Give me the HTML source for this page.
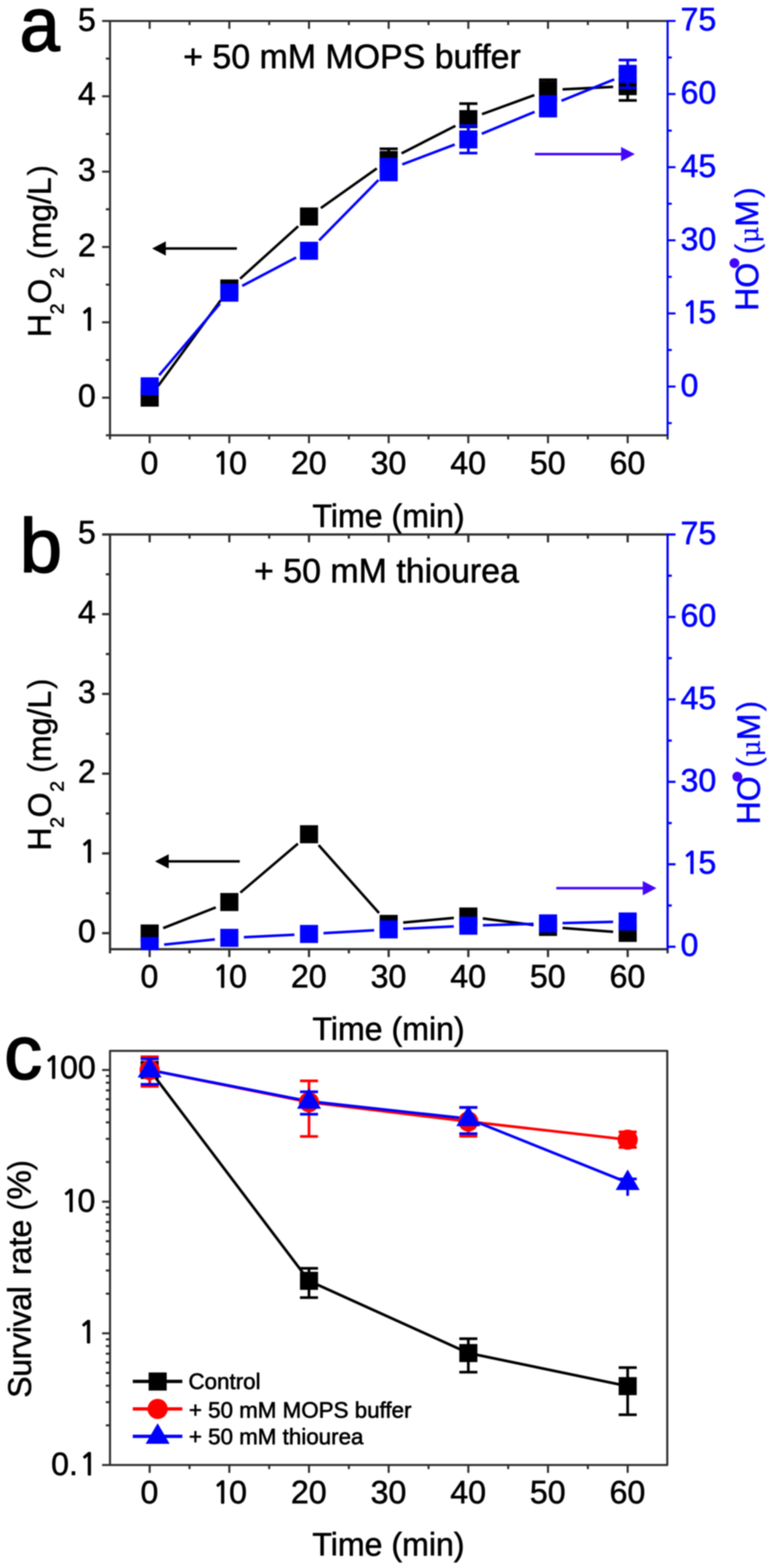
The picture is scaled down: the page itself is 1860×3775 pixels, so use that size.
<!DOCTYPE html>
<html lang="en">
<head>
<meta charset="utf-8">
<title>Figure: H2O2 and HO radical production, survival rate</title>
<style>
html,body{margin:0;padding:0;background:#fff;}
body{width:1860px;height:3775px;overflow:hidden;font-family:"Liberation Sans",Arial,Helvetica,sans-serif;}
svg{display:block;filter:blur(1.5px);}
</style>
</head>
<body>
<svg width="1860" height="3775" viewBox="0 0 1860 3775" font-family="'Liberation Sans', Arial, Helvetica, sans-serif">
<rect width="1860" height="3775" fill="#fff"/>
<line x1="245.7" y1="50.4" x2="1606.4" y2="50.4" stroke="#2e2e2e" stroke-width="5.0"/>
<line x1="360.1" y1="50.4" x2="360.1" y2="69.4" stroke="#2e2e2e" stroke-width="5.0"/>
<line x1="456.0" y1="50.4" x2="456.0" y2="60.4" stroke="#2e2e2e" stroke-width="5.0"/>
<line x1="551.8" y1="50.4" x2="551.8" y2="69.4" stroke="#2e2e2e" stroke-width="5.0"/>
<line x1="647.7" y1="50.4" x2="647.7" y2="60.4" stroke="#2e2e2e" stroke-width="5.0"/>
<line x1="743.5" y1="50.4" x2="743.5" y2="69.4" stroke="#2e2e2e" stroke-width="5.0"/>
<line x1="839.4" y1="50.4" x2="839.4" y2="60.4" stroke="#2e2e2e" stroke-width="5.0"/>
<line x1="935.2" y1="50.4" x2="935.2" y2="69.4" stroke="#2e2e2e" stroke-width="5.0"/>
<line x1="1031.1" y1="50.4" x2="1031.1" y2="60.4" stroke="#2e2e2e" stroke-width="5.0"/>
<line x1="1126.9" y1="50.4" x2="1126.9" y2="69.4" stroke="#2e2e2e" stroke-width="5.0"/>
<line x1="1222.8" y1="50.4" x2="1222.8" y2="60.4" stroke="#2e2e2e" stroke-width="5.0"/>
<line x1="1318.6" y1="50.4" x2="1318.6" y2="69.4" stroke="#2e2e2e" stroke-width="5.0"/>
<line x1="1414.5" y1="50.4" x2="1414.5" y2="60.4" stroke="#2e2e2e" stroke-width="5.0"/>
<line x1="1510.3" y1="50.4" x2="1510.3" y2="69.4" stroke="#2e2e2e" stroke-width="5.0"/>
<line x1="254.7" y1="1048.1" x2="1606.4" y2="1048.1" stroke="#2e2e2e" stroke-width="5.0"/>
<line x1="360.1" y1="1048.1" x2="360.1" y2="1067.1" stroke="#2e2e2e" stroke-width="5.0"/>
<line x1="456.0" y1="1048.1" x2="456.0" y2="1058.1" stroke="#2e2e2e" stroke-width="5.0"/>
<line x1="551.8" y1="1048.1" x2="551.8" y2="1067.1" stroke="#2e2e2e" stroke-width="5.0"/>
<line x1="647.7" y1="1048.1" x2="647.7" y2="1058.1" stroke="#2e2e2e" stroke-width="5.0"/>
<line x1="743.5" y1="1048.1" x2="743.5" y2="1067.1" stroke="#2e2e2e" stroke-width="5.0"/>
<line x1="839.4" y1="1048.1" x2="839.4" y2="1058.1" stroke="#2e2e2e" stroke-width="5.0"/>
<line x1="935.2" y1="1048.1" x2="935.2" y2="1067.1" stroke="#2e2e2e" stroke-width="5.0"/>
<line x1="1031.1" y1="1048.1" x2="1031.1" y2="1058.1" stroke="#2e2e2e" stroke-width="5.0"/>
<line x1="1126.9" y1="1048.1" x2="1126.9" y2="1067.1" stroke="#2e2e2e" stroke-width="5.0"/>
<line x1="1222.8" y1="1048.1" x2="1222.8" y2="1058.1" stroke="#2e2e2e" stroke-width="5.0"/>
<line x1="1318.6" y1="1048.1" x2="1318.6" y2="1067.1" stroke="#2e2e2e" stroke-width="5.0"/>
<line x1="1414.5" y1="1048.1" x2="1414.5" y2="1058.1" stroke="#2e2e2e" stroke-width="5.0"/>
<line x1="1510.3" y1="1048.1" x2="1510.3" y2="1067.1" stroke="#2e2e2e" stroke-width="5.0"/>
<line x1="264.7" y1="47.9" x2="264.7" y2="1058.1" stroke="#2e2e2e" stroke-width="5.0"/>
<line x1="245.7" y1="957.4" x2="264.7" y2="957.4" stroke="#2e2e2e" stroke-width="5.0"/>
<text x="187.5" y="979.0" font-size="77.3" fill="#000" stroke="#000" stroke-width="1.3" stroke-linejoin="round">0</text>
<line x1="254.7" y1="866.7" x2="264.7" y2="866.7" stroke="#2e2e2e" stroke-width="5.0"/>
<line x1="245.7" y1="776.0" x2="264.7" y2="776.0" stroke="#2e2e2e" stroke-width="5.0"/>
<text y="795.0" font-size="77.3" fill="#000" stroke="#000" stroke-width="1.3" stroke-linejoin="round"><tspan x="191.2" font-family="NanumGothic, 'Liberation Sans', sans-serif" font-size="71.1" stroke-width="3.0">1</tspan></text>
<line x1="254.7" y1="685.3" x2="264.7" y2="685.3" stroke="#2e2e2e" stroke-width="5.0"/>
<line x1="245.7" y1="594.6" x2="264.7" y2="594.6" stroke="#2e2e2e" stroke-width="5.0"/>
<text x="187.5" y="617.3" font-size="77.3" fill="#000" stroke="#000" stroke-width="1.3" stroke-linejoin="round">2</text>
<line x1="254.7" y1="503.9" x2="264.7" y2="503.9" stroke="#2e2e2e" stroke-width="5.0"/>
<line x1="245.7" y1="413.2" x2="264.7" y2="413.2" stroke="#2e2e2e" stroke-width="5.0"/>
<text x="187.5" y="434.8" font-size="77.3" fill="#000" stroke="#000" stroke-width="1.3" stroke-linejoin="round">3</text>
<line x1="254.7" y1="322.5" x2="264.7" y2="322.5" stroke="#2e2e2e" stroke-width="5.0"/>
<line x1="245.7" y1="231.8" x2="264.7" y2="231.8" stroke="#2e2e2e" stroke-width="5.0"/>
<text x="187.5" y="251.7" font-size="77.3" fill="#000" stroke="#000" stroke-width="1.3" stroke-linejoin="round">4</text>
<line x1="254.7" y1="141.1" x2="264.7" y2="141.1" stroke="#2e2e2e" stroke-width="5.0"/>
<text x="187.5" y="73.7" font-size="77.3" fill="#000" stroke="#000" stroke-width="1.3" stroke-linejoin="round">5</text>
<line x1="1606.4" y1="47.9" x2="1606.4" y2="1050.6" stroke="#0000ff" stroke-width="5.0"/>
<line x1="1606.4" y1="1049.6" x2="1606.4" y2="1058.1" stroke="#2e2e2e" stroke-width="5.0"/>
<line x1="1606.4" y1="1018.6" x2="1616.4" y2="1018.6" stroke="#0000ff" stroke-width="5.0"/>
<line x1="1606.4" y1="930.6" x2="1625.4" y2="930.6" stroke="#0000ff" stroke-width="5.0"/>
<text x="1637.6" y="953.6" font-size="77.3" fill="#0000ff" stroke="#0000ff" stroke-width="1.3" stroke-linejoin="round">0</text>
<line x1="1606.4" y1="842.6" x2="1616.4" y2="842.6" stroke="#0000ff" stroke-width="5.0"/>
<line x1="1606.4" y1="754.6" x2="1625.4" y2="754.6" stroke="#0000ff" stroke-width="5.0"/>
<text y="777.6" font-size="77.3" fill="#0000ff" stroke="#0000ff" stroke-width="1.3" stroke-linejoin="round"><tspan x="1641.3" font-family="NanumGothic, 'Liberation Sans', sans-serif" font-size="71.1" stroke-width="3.0">1</tspan><tspan x="1680.6">5</tspan></text>
<line x1="1606.4" y1="666.5" x2="1616.4" y2="666.5" stroke="#0000ff" stroke-width="5.0"/>
<line x1="1606.4" y1="578.5" x2="1625.4" y2="578.5" stroke="#0000ff" stroke-width="5.0"/>
<text x="1637.6" y="601.5" font-size="77.3" fill="#0000ff" stroke="#0000ff" stroke-width="1.3" stroke-linejoin="round">30</text>
<line x1="1606.4" y1="490.5" x2="1616.4" y2="490.5" stroke="#0000ff" stroke-width="5.0"/>
<line x1="1606.4" y1="402.5" x2="1625.4" y2="402.5" stroke="#0000ff" stroke-width="5.0"/>
<text x="1637.6" y="425.5" font-size="77.3" fill="#0000ff" stroke="#0000ff" stroke-width="1.3" stroke-linejoin="round">45</text>
<line x1="1606.4" y1="314.5" x2="1616.4" y2="314.5" stroke="#0000ff" stroke-width="5.0"/>
<line x1="1606.4" y1="226.4" x2="1625.4" y2="226.4" stroke="#0000ff" stroke-width="5.0"/>
<text x="1637.6" y="249.4" font-size="77.3" fill="#0000ff" stroke="#0000ff" stroke-width="1.3" stroke-linejoin="round">60</text>
<line x1="1606.4" y1="138.4" x2="1616.4" y2="138.4" stroke="#0000ff" stroke-width="5.0"/>
<line x1="1606.4" y1="50.4" x2="1625.4" y2="50.4" stroke="#0000ff" stroke-width="5.0"/>
<text x="1637.6" y="73.4" font-size="77.3" fill="#0000ff" stroke="#0000ff" stroke-width="1.3" stroke-linejoin="round">75</text>
<clipPath id="clipa"><rect x="262.2" y="47.9" width="1346.7" height="1002.7"/></clipPath>
<g clip-path="url(#clipa)">
<line x1="380.7" y1="929.0" x2="531.2" y2="722.8" stroke="#000" stroke-width="6.2"/>
<line x1="577.8" y1="671.0" x2="717.5" y2="544.8" stroke="#000" stroke-width="6.2"/>
<line x1="772.0" y1="501.0" x2="906.7" y2="405.5" stroke="#000" stroke-width="6.2"/>
<line x1="966.3" y1="369.2" x2="1095.8" y2="302.9" stroke="#000" stroke-width="6.2"/>
<line x1="1159.8" y1="274.9" x2="1285.7" y2="229.0" stroke="#000" stroke-width="6.2"/>
<line x1="1353.6" y1="215.2" x2="1475.3" y2="209.2" stroke="#000" stroke-width="6.2"/>
<rect x="338.4" y="935.5" width="43.5" height="43.5" fill="#000"/>
<rect x="530.1" y="672.8" width="43.5" height="43.5" fill="#000"/>
<rect x="721.8" y="499.5" width="43.5" height="43.5" fill="#000"/>
<line x1="935.2" y1="358.2" x2="935.2" y2="412.2" stroke="#000" stroke-width="6.5"/>
<line x1="913.5" y1="358.2" x2="957.0" y2="358.2" stroke="#000" stroke-width="6.5"/>
<line x1="913.5" y1="412.2" x2="957.0" y2="412.2" stroke="#000" stroke-width="6.5"/>
<rect x="913.5" y="363.4" width="43.5" height="43.5" fill="#000"/>
<line x1="1126.9" y1="249.6" x2="1126.9" y2="324.2" stroke="#000" stroke-width="6.5"/>
<line x1="1105.2" y1="249.6" x2="1148.7" y2="249.6" stroke="#000" stroke-width="6.5"/>
<line x1="1105.2" y1="324.2" x2="1148.7" y2="324.2" stroke="#000" stroke-width="6.5"/>
<rect x="1105.2" y="265.1" width="43.5" height="43.5" fill="#000"/>
<line x1="1318.6" y1="192.0" x2="1318.6" y2="242.0" stroke="#000" stroke-width="6.5"/>
<line x1="1296.9" y1="192.0" x2="1340.4" y2="192.0" stroke="#000" stroke-width="6.5"/>
<line x1="1296.9" y1="242.0" x2="1340.4" y2="242.0" stroke="#000" stroke-width="6.5"/>
<rect x="1296.9" y="195.2" width="43.5" height="43.5" fill="#000"/>
<line x1="1510.3" y1="173.1" x2="1510.3" y2="241.7" stroke="#000" stroke-width="6.5"/>
<line x1="1488.6" y1="173.1" x2="1532.1" y2="173.1" stroke="#000" stroke-width="6.5"/>
<line x1="1488.6" y1="241.7" x2="1532.1" y2="241.7" stroke="#000" stroke-width="6.5"/>
<rect x="1488.6" y="185.7" width="43.5" height="43.5" fill="#000"/>
<line x1="382.8" y1="903.4" x2="529.1" y2="731.2" stroke="#0000ff" stroke-width="6.2"/>
<line x1="582.8" y1="688.2" x2="712.5" y2="620.0" stroke="#0000ff" stroke-width="6.2"/>
<line x1="768.0" y1="578.7" x2="910.7" y2="433.3" stroke="#0000ff" stroke-width="6.2"/>
<line x1="967.9" y1="395.9" x2="1094.2" y2="348.0" stroke="#0000ff" stroke-width="6.2"/>
<line x1="1159.2" y1="322.2" x2="1286.3" y2="269.3" stroke="#0000ff" stroke-width="6.2"/>
<line x1="1351.0" y1="242.7" x2="1477.9" y2="191.2" stroke="#0000ff" stroke-width="6.2"/>
<rect x="338.4" y="908.4" width="43.5" height="43.5" fill="#0000ff"/>
<rect x="530.1" y="682.8" width="43.5" height="43.5" fill="#0000ff"/>
<rect x="721.8" y="582.0" width="43.5" height="43.5" fill="#0000ff"/>
<line x1="935.2" y1="383.3" x2="935.2" y2="433.3" stroke="#0000ff" stroke-width="6.5"/>
<line x1="913.5" y1="383.3" x2="957.0" y2="383.3" stroke="#0000ff" stroke-width="6.5"/>
<line x1="913.5" y1="433.3" x2="957.0" y2="433.3" stroke="#0000ff" stroke-width="6.5"/>
<rect x="913.5" y="386.6" width="43.5" height="43.5" fill="#0000ff"/>
<line x1="1126.9" y1="302.6" x2="1126.9" y2="368.6" stroke="#0000ff" stroke-width="6.5"/>
<line x1="1105.2" y1="302.6" x2="1148.7" y2="302.6" stroke="#0000ff" stroke-width="6.5"/>
<line x1="1105.2" y1="368.6" x2="1148.7" y2="368.6" stroke="#0000ff" stroke-width="6.5"/>
<rect x="1105.2" y="313.9" width="43.5" height="43.5" fill="#0000ff"/>
<line x1="1318.6" y1="232.4" x2="1318.6" y2="279.4" stroke="#0000ff" stroke-width="6.5"/>
<line x1="1296.9" y1="232.4" x2="1340.4" y2="232.4" stroke="#0000ff" stroke-width="6.5"/>
<line x1="1296.9" y1="279.4" x2="1340.4" y2="279.4" stroke="#0000ff" stroke-width="6.5"/>
<rect x="1296.9" y="234.2" width="43.5" height="43.5" fill="#0000ff"/>
<line x1="1510.3" y1="144.5" x2="1510.3" y2="211.5" stroke="#0000ff" stroke-width="6.5"/>
<line x1="1488.6" y1="144.5" x2="1532.1" y2="144.5" stroke="#0000ff" stroke-width="6.5"/>
<line x1="1488.6" y1="211.5" x2="1532.1" y2="211.5" stroke="#0000ff" stroke-width="6.5"/>
<rect x="1488.6" y="156.2" width="43.5" height="43.5" fill="#0000ff"/>
</g>
<text x="338.1" y="1140.7" font-size="77.3" fill="#000" stroke="#000" stroke-width="1.3" stroke-linejoin="round">0</text>
<text y="1140.7" font-size="77.3" fill="#000" stroke="#000" stroke-width="1.3" stroke-linejoin="round"><tspan x="512.0" font-family="NanumGothic, 'Liberation Sans', sans-serif" font-size="71.1" stroke-width="3.0">1</tspan><tspan x="551.3">0</tspan></text>
<text x="700.0" y="1140.7" font-size="77.3" fill="#000" stroke="#000" stroke-width="1.3" stroke-linejoin="round">20</text>
<text x="891.7" y="1140.7" font-size="77.3" fill="#000" stroke="#000" stroke-width="1.3" stroke-linejoin="round">30</text>
<text x="1083.4" y="1140.7" font-size="77.3" fill="#000" stroke="#000" stroke-width="1.3" stroke-linejoin="round">40</text>
<text x="1275.1" y="1140.7" font-size="77.3" fill="#000" stroke="#000" stroke-width="1.3" stroke-linejoin="round">50</text>
<text x="1466.8" y="1140.7" font-size="77.3" fill="#000" stroke="#000" stroke-width="1.3" stroke-linejoin="round">60</text>
<text x="751.7" y="1268.8" font-size="77.3" fill="#000" stroke="#000" stroke-width="1.3" stroke-linejoin="round">Time (min)</text>
<text x="440.7" y="163.5" font-size="81.6" fill="#000" stroke="#000" stroke-width="1.3" stroke-linejoin="round">+ 50 mM MOPS buffer</text>
<g transform="translate(53.0,122.0) scale(0.95,1)"><text x="-6.0" y="0" font-size="183" fill="#000" stroke="#000" stroke-width="3.6" stroke-linejoin="round">a</text></g>
<line x1="397.0" y1="598.3" x2="570.0" y2="598.3" stroke="#000" stroke-width="6"/>
<polygon points="366.0,598.3 399.0,581.0 399.0,615.5" fill="#000"/>
<line x1="1287.0" y1="371.0" x2="1496.5" y2="371.0" stroke="#4406fa" stroke-width="6"/>
<polygon points="1527.5,371.0 1494.5,353.8 1494.5,388.2" fill="#4406fa"/>
<g transform="translate(122.3,806.0) rotate(-90)"><text fill="#000" stroke="#000" stroke-linejoin="round"><tspan x="-5.7" y="0.0" font-size="77.3" stroke-width="1.3">H</tspan><tspan x="49.6" y="31.1" font-size="46.5" stroke-width="1.3">2</tspan><tspan x="74.5" y="0.0" font-size="77.3" stroke-width="1.3">O</tspan><tspan x="136.1" y="31.1" font-size="46.5" stroke-width="1.3">2 </tspan><tspan x="181.2" y="0.0" font-size="77.3" stroke-width="0.4">(</tspan><tspan x="207.5" y="0.0" font-size="77.3" stroke-width="1.3">mg/L</tspan><tspan x="383.1" y="0.0" font-size="77.3" stroke-width="0.4">)</tspan></text></g>
<g transform="translate(1824.3,742.9) rotate(-90)"><text fill="#0000ff" stroke="#0000ff" stroke-linejoin="round"><tspan x="-5.7" y="0.0" font-size="77.3" stroke-width="1.3">HO</tspan><tspan x="94.1" y="-27.9" font-size="88" stroke-width="0" fill="#4406fa" stroke="#4406fa">• </tspan><tspan x="130.7" y="0.0" font-size="77.3" stroke-width="0.4">(</tspan><tspan x="157.1" y="0.0" font-size="62" stroke-width="0.3" font-family="'DejaVu Serif', 'Liberation Serif', serif">μ</tspan><tspan x="197.0" y="0.0" font-size="77.3" stroke-width="1.3">M</tspan><tspan x="266.4" y="0.0" font-size="77.3" stroke-width="0.4">)</tspan></text></g>
<line x1="245.7" y1="1286.8" x2="1606.4" y2="1286.8" stroke="#2e2e2e" stroke-width="5.4"/>
<line x1="360.1" y1="1286.8" x2="360.1" y2="1305.8" stroke="#2e2e2e" stroke-width="5.4"/>
<line x1="456.0" y1="1286.8" x2="456.0" y2="1296.8" stroke="#2e2e2e" stroke-width="5.4"/>
<line x1="551.8" y1="1286.8" x2="551.8" y2="1305.8" stroke="#2e2e2e" stroke-width="5.4"/>
<line x1="647.7" y1="1286.8" x2="647.7" y2="1296.8" stroke="#2e2e2e" stroke-width="5.4"/>
<line x1="743.5" y1="1286.8" x2="743.5" y2="1305.8" stroke="#2e2e2e" stroke-width="5.4"/>
<line x1="839.4" y1="1286.8" x2="839.4" y2="1296.8" stroke="#2e2e2e" stroke-width="5.4"/>
<line x1="935.2" y1="1286.8" x2="935.2" y2="1305.8" stroke="#2e2e2e" stroke-width="5.4"/>
<line x1="1031.1" y1="1286.8" x2="1031.1" y2="1296.8" stroke="#2e2e2e" stroke-width="5.4"/>
<line x1="1126.9" y1="1286.8" x2="1126.9" y2="1305.8" stroke="#2e2e2e" stroke-width="5.4"/>
<line x1="1222.8" y1="1286.8" x2="1222.8" y2="1296.8" stroke="#2e2e2e" stroke-width="5.4"/>
<line x1="1318.6" y1="1286.8" x2="1318.6" y2="1305.8" stroke="#2e2e2e" stroke-width="5.4"/>
<line x1="1414.5" y1="1286.8" x2="1414.5" y2="1296.8" stroke="#2e2e2e" stroke-width="5.4"/>
<line x1="1510.3" y1="1286.8" x2="1510.3" y2="1305.8" stroke="#2e2e2e" stroke-width="5.4"/>
<line x1="264.7" y1="2285.2" x2="1606.4" y2="2285.2" stroke="#2e2e2e" stroke-width="5.4"/>
<line x1="360.1" y1="2285.2" x2="360.1" y2="2304.2" stroke="#2e2e2e" stroke-width="5.4"/>
<line x1="456.0" y1="2285.2" x2="456.0" y2="2295.2" stroke="#2e2e2e" stroke-width="5.4"/>
<line x1="551.8" y1="2285.2" x2="551.8" y2="2304.2" stroke="#2e2e2e" stroke-width="5.4"/>
<line x1="647.7" y1="2285.2" x2="647.7" y2="2295.2" stroke="#2e2e2e" stroke-width="5.4"/>
<line x1="743.5" y1="2285.2" x2="743.5" y2="2304.2" stroke="#2e2e2e" stroke-width="5.4"/>
<line x1="839.4" y1="2285.2" x2="839.4" y2="2295.2" stroke="#2e2e2e" stroke-width="5.4"/>
<line x1="935.2" y1="2285.2" x2="935.2" y2="2304.2" stroke="#2e2e2e" stroke-width="5.4"/>
<line x1="1031.1" y1="2285.2" x2="1031.1" y2="2295.2" stroke="#2e2e2e" stroke-width="5.4"/>
<line x1="1126.9" y1="2285.2" x2="1126.9" y2="2304.2" stroke="#2e2e2e" stroke-width="5.4"/>
<line x1="1222.8" y1="2285.2" x2="1222.8" y2="2295.2" stroke="#2e2e2e" stroke-width="5.4"/>
<line x1="1318.6" y1="2285.2" x2="1318.6" y2="2304.2" stroke="#2e2e2e" stroke-width="5.4"/>
<line x1="1414.5" y1="2285.2" x2="1414.5" y2="2295.2" stroke="#2e2e2e" stroke-width="5.4"/>
<line x1="1510.3" y1="2285.2" x2="1510.3" y2="2304.2" stroke="#2e2e2e" stroke-width="5.4"/>
<line x1="264.7" y1="1284.1" x2="264.7" y2="2295.2" stroke="#2e2e2e" stroke-width="5.4"/>
<line x1="245.7" y1="2246.6" x2="264.7" y2="2246.6" stroke="#2e2e2e" stroke-width="5.4"/>
<text x="187.5" y="2268.2" font-size="77.3" fill="#000" stroke="#000" stroke-width="1.3" stroke-linejoin="round">0</text>
<line x1="254.7" y1="2150.6" x2="264.7" y2="2150.6" stroke="#2e2e2e" stroke-width="5.4"/>
<line x1="245.7" y1="2054.6" x2="264.7" y2="2054.6" stroke="#2e2e2e" stroke-width="5.4"/>
<text y="2076.2" font-size="77.3" fill="#000" stroke="#000" stroke-width="1.3" stroke-linejoin="round"><tspan x="191.2" font-family="NanumGothic, 'Liberation Sans', sans-serif" font-size="71.1" stroke-width="3.0">1</tspan></text>
<line x1="254.7" y1="1958.6" x2="264.7" y2="1958.6" stroke="#2e2e2e" stroke-width="5.4"/>
<line x1="245.7" y1="1862.6" x2="264.7" y2="1862.6" stroke="#2e2e2e" stroke-width="5.4"/>
<text x="187.5" y="1884.2" font-size="77.3" fill="#000" stroke="#000" stroke-width="1.3" stroke-linejoin="round">2</text>
<line x1="254.7" y1="1766.6" x2="264.7" y2="1766.6" stroke="#2e2e2e" stroke-width="5.4"/>
<line x1="245.7" y1="1670.6" x2="264.7" y2="1670.6" stroke="#2e2e2e" stroke-width="5.4"/>
<text x="187.5" y="1692.2" font-size="77.3" fill="#000" stroke="#000" stroke-width="1.3" stroke-linejoin="round">3</text>
<line x1="254.7" y1="1574.6" x2="264.7" y2="1574.6" stroke="#2e2e2e" stroke-width="5.4"/>
<line x1="245.7" y1="1478.6" x2="264.7" y2="1478.6" stroke="#2e2e2e" stroke-width="5.4"/>
<text x="187.5" y="1500.2" font-size="77.3" fill="#000" stroke="#000" stroke-width="1.3" stroke-linejoin="round">4</text>
<line x1="254.7" y1="1382.6" x2="264.7" y2="1382.6" stroke="#2e2e2e" stroke-width="5.4"/>
<text x="187.5" y="1308.2" font-size="77.3" fill="#000" stroke="#000" stroke-width="1.3" stroke-linejoin="round">5</text>
<line x1="1606.4" y1="1284.1" x2="1606.4" y2="2287.9" stroke="#0000ff" stroke-width="5.4"/>
<line x1="1606.4" y1="2286.9" x2="1606.4" y2="2295.2" stroke="#2e2e2e" stroke-width="5.4"/>
<line x1="1606.4" y1="2279.3" x2="1625.4" y2="2279.3" stroke="#0000ff" stroke-width="5.4"/>
<text x="1637.6" y="2300.8" font-size="77.3" fill="#0000ff" stroke="#0000ff" stroke-width="1.3" stroke-linejoin="round">0</text>
<line x1="1606.4" y1="2180.0" x2="1616.4" y2="2180.0" stroke="#0000ff" stroke-width="5.4"/>
<line x1="1606.4" y1="2080.8" x2="1625.4" y2="2080.8" stroke="#0000ff" stroke-width="5.4"/>
<text y="2102.8" font-size="77.3" fill="#0000ff" stroke="#0000ff" stroke-width="1.3" stroke-linejoin="round"><tspan x="1641.3" font-family="NanumGothic, 'Liberation Sans', sans-serif" font-size="71.1" stroke-width="3.0">1</tspan><tspan x="1680.6">5</tspan></text>
<line x1="1606.4" y1="1981.5" x2="1616.4" y2="1981.5" stroke="#0000ff" stroke-width="5.4"/>
<line x1="1606.4" y1="1882.3" x2="1625.4" y2="1882.3" stroke="#0000ff" stroke-width="5.4"/>
<text x="1637.6" y="1904.8" font-size="77.3" fill="#0000ff" stroke="#0000ff" stroke-width="1.3" stroke-linejoin="round">30</text>
<line x1="1606.4" y1="1783.0" x2="1616.4" y2="1783.0" stroke="#0000ff" stroke-width="5.4"/>
<line x1="1606.4" y1="1683.8" x2="1625.4" y2="1683.8" stroke="#0000ff" stroke-width="5.4"/>
<text x="1637.6" y="1706.8" font-size="77.3" fill="#0000ff" stroke="#0000ff" stroke-width="1.3" stroke-linejoin="round">45</text>
<line x1="1606.4" y1="1584.5" x2="1616.4" y2="1584.5" stroke="#0000ff" stroke-width="5.4"/>
<line x1="1606.4" y1="1485.3" x2="1625.4" y2="1485.3" stroke="#0000ff" stroke-width="5.4"/>
<text x="1637.6" y="1508.3" font-size="77.3" fill="#0000ff" stroke="#0000ff" stroke-width="1.3" stroke-linejoin="round">60</text>
<line x1="1606.4" y1="1386.0" x2="1616.4" y2="1386.0" stroke="#0000ff" stroke-width="5.4"/>
<line x1="1606.4" y1="1286.8" x2="1625.4" y2="1286.8" stroke="#0000ff" stroke-width="5.4"/>
<text x="1637.6" y="1309.8" font-size="77.3" fill="#0000ff" stroke="#0000ff" stroke-width="1.3" stroke-linejoin="round">75</text>
<clipPath id="clipb"><rect x="262.0" y="1284.1" width="1347.1" height="1003.8"/></clipPath>
<g clip-path="url(#clipb)">
<line x1="392.7" y1="2234.5" x2="519.2" y2="2184.6" stroke="#000" stroke-width="6.2"/>
<line x1="578.4" y1="2149.0" x2="716.9" y2="2031.1" stroke="#000" stroke-width="6.2"/>
<line x1="766.7" y1="2034.6" x2="912.0" y2="2198.1" stroke="#000" stroke-width="6.2"/>
<line x1="970.1" y1="2221.1" x2="1092.0" y2="2209.8" stroke="#000" stroke-width="6.2"/>
<line x1="1161.6" y1="2211.1" x2="1283.9" y2="2227.1" stroke="#000" stroke-width="6.2"/>
<line x1="1353.5" y1="2234.2" x2="1475.4" y2="2243.4" stroke="#000" stroke-width="6.2"/>
<rect x="338.4" y="2225.7" width="43.5" height="43.5" fill="#000"/>
<rect x="530.1" y="2149.9" width="43.5" height="43.5" fill="#000"/>
<rect x="721.8" y="1986.7" width="43.5" height="43.5" fill="#000"/>
<rect x="913.5" y="2202.6" width="43.5" height="43.5" fill="#000"/>
<rect x="1105.2" y="2184.8" width="43.5" height="43.5" fill="#000"/>
<rect x="1296.9" y="2209.8" width="43.5" height="43.5" fill="#000"/>
<rect x="1488.6" y="2224.2" width="43.5" height="43.5" fill="#000"/>
<line x1="394.9" y1="2274.2" x2="517.0" y2="2261.6" stroke="#0000ff" stroke-width="6.2"/>
<line x1="586.8" y1="2256.3" x2="708.5" y2="2250.3" stroke="#0000ff" stroke-width="6.2"/>
<line x1="778.4" y1="2246.6" x2="900.3" y2="2239.6" stroke="#0000ff" stroke-width="6.2"/>
<line x1="970.2" y1="2236.0" x2="1091.9" y2="2230.3" stroke="#0000ff" stroke-width="6.2"/>
<line x1="1161.9" y1="2227.7" x2="1283.6" y2="2224.2" stroke="#0000ff" stroke-width="6.2"/>
<line x1="1353.6" y1="2222.3" x2="1475.3" y2="2219.4" stroke="#0000ff" stroke-width="6.2"/>
<rect x="338.4" y="2256.1" width="43.5" height="43.5" fill="#0000ff"/>
<rect x="530.1" y="2236.2" width="43.5" height="43.5" fill="#0000ff"/>
<rect x="721.8" y="2226.8" width="43.5" height="43.5" fill="#0000ff"/>
<rect x="913.5" y="2215.8" width="43.5" height="43.5" fill="#0000ff"/>
<rect x="1105.2" y="2206.9" width="43.5" height="43.5" fill="#0000ff"/>
<rect x="1296.9" y="2201.4" width="43.5" height="43.5" fill="#0000ff"/>
<rect x="1488.6" y="2196.8" width="43.5" height="43.5" fill="#0000ff"/>
</g>
<text x="338.1" y="2376.5" font-size="77.3" fill="#000" stroke="#000" stroke-width="1.3" stroke-linejoin="round">0</text>
<text y="2376.5" font-size="77.3" fill="#000" stroke="#000" stroke-width="1.3" stroke-linejoin="round"><tspan x="512.0" font-family="NanumGothic, 'Liberation Sans', sans-serif" font-size="71.1" stroke-width="3.0">1</tspan><tspan x="551.3">0</tspan></text>
<text x="700.0" y="2376.5" font-size="77.3" fill="#000" stroke="#000" stroke-width="1.3" stroke-linejoin="round">20</text>
<text x="891.7" y="2376.5" font-size="77.3" fill="#000" stroke="#000" stroke-width="1.3" stroke-linejoin="round">30</text>
<text x="1083.4" y="2376.5" font-size="77.3" fill="#000" stroke="#000" stroke-width="1.3" stroke-linejoin="round">40</text>
<text x="1275.1" y="2376.5" font-size="77.3" fill="#000" stroke="#000" stroke-width="1.3" stroke-linejoin="round">50</text>
<text x="1466.8" y="2376.5" font-size="77.3" fill="#000" stroke="#000" stroke-width="1.3" stroke-linejoin="round">60</text>
<text x="751.7" y="2503.5" font-size="77.3" fill="#000" stroke="#000" stroke-width="1.3" stroke-linejoin="round">Time (min)</text>
<text x="611.3" y="1402.0" font-size="81.6" fill="#000" stroke="#000" stroke-width="1.3" stroke-linejoin="round">+ 50 mM thiourea</text>
<text x="47.6" y="1376.5" font-size="183" fill="#000" stroke="#000" stroke-width="3.6" stroke-linejoin="round">b</text>
<line x1="404.0" y1="2073.8" x2="577.0" y2="2073.8" stroke="#000" stroke-width="6"/>
<polygon points="373.0,2073.8 406.0,2056.6 406.0,2091.1" fill="#000"/>
<line x1="1338.5" y1="2138.3" x2="1548.6" y2="2138.3" stroke="#4406fa" stroke-width="6"/>
<polygon points="1579.6,2138.3 1546.6,2121.1 1546.6,2155.6" fill="#4406fa"/>
<g transform="translate(122.3,2042.4) rotate(-90)"><text fill="#000" stroke="#000" stroke-linejoin="round"><tspan x="-5.7" y="0.0" font-size="77.3" stroke-width="1.3">H</tspan><tspan x="49.6" y="31.1" font-size="46.5" stroke-width="1.3">2</tspan><tspan x="74.5" y="0.0" font-size="77.3" stroke-width="1.3">O</tspan><tspan x="136.1" y="31.1" font-size="46.5" stroke-width="1.3">2 </tspan><tspan x="181.2" y="0.0" font-size="77.3" stroke-width="0.4">(</tspan><tspan x="207.5" y="0.0" font-size="77.3" stroke-width="1.3">mg/L</tspan><tspan x="383.1" y="0.0" font-size="77.3" stroke-width="0.4">)</tspan></text></g>
<g transform="translate(1827.6,1979.3) rotate(-90)"><text fill="#0000ff" stroke="#0000ff" stroke-linejoin="round"><tspan x="-5.7" y="0.0" font-size="77.3" stroke-width="1.3">HO</tspan><tspan x="94.1" y="-24.4" font-size="88" stroke-width="0" fill="#4406fa" stroke="#4406fa">• </tspan><tspan x="130.7" y="0.0" font-size="77.3" stroke-width="0.4">(</tspan><tspan x="157.1" y="0.0" font-size="62" stroke-width="0.3" font-family="'DejaVu Serif', 'Liberation Serif', serif">μ</tspan><tspan x="197.0" y="0.0" font-size="77.3" stroke-width="1.3">M</tspan><tspan x="266.4" y="0.0" font-size="77.3" stroke-width="0.4">)</tspan></text></g>
<clipPath id="clipc"><rect x="264.7" y="2530.0" width="1341.7" height="997.0"/></clipPath>
<g clip-path="url(#clipc)">
<polyline fill="none" stroke="#000" stroke-width="6.6" stroke-linejoin="round" points="360.1,2576.0 743.5,3083.7 1126.9,3257.5 1510.3,3337.2"/>
<polyline fill="none" stroke="#ff0000" stroke-width="6.6" stroke-linejoin="round" points="360.1,2576.0 743.5,2653.5 1126.9,2700.0 1510.3,2743.7"/>
<polyline fill="none" stroke="#0000ff" stroke-width="6.6" stroke-linejoin="round" points="360.1,2576.1 743.5,2651.4 1126.9,2693.3 1510.3,2847.1"/>
<line x1="743.5" y1="3053.4" x2="743.5" y2="3124.1" stroke="#000" stroke-width="6.5"/>
<line x1="721.8" y1="3053.4" x2="765.2" y2="3053.4" stroke="#000" stroke-width="6.5"/>
<line x1="721.8" y1="3124.1" x2="765.2" y2="3124.1" stroke="#000" stroke-width="6.5"/>
<line x1="1126.9" y1="3223.1" x2="1126.9" y2="3303.6" stroke="#000" stroke-width="6.5"/>
<line x1="1105.2" y1="3223.1" x2="1148.7" y2="3223.1" stroke="#000" stroke-width="6.5"/>
<line x1="1105.2" y1="3303.6" x2="1148.7" y2="3303.6" stroke="#000" stroke-width="6.5"/>
<line x1="1510.3" y1="3292.6" x2="1510.3" y2="3406.0" stroke="#000" stroke-width="6.5"/>
<line x1="1488.6" y1="3292.6" x2="1532.1" y2="3292.6" stroke="#000" stroke-width="6.5"/>
<line x1="1488.6" y1="3406.0" x2="1532.1" y2="3406.0" stroke="#000" stroke-width="6.5"/>
<line x1="360.1" y1="2549.2" x2="360.1" y2="2610.6" stroke="#0000ff" stroke-width="6.5"/>
<line x1="743.5" y1="2628.4" x2="743.5" y2="2682.5" stroke="#0000ff" stroke-width="6.5"/>
<line x1="1126.9" y1="2666.3" x2="1126.9" y2="2729.2" stroke="#0000ff" stroke-width="6.5"/>
<line x1="1510.3" y1="2838.2" x2="1510.3" y2="2879.0" stroke="#0000ff" stroke-width="6.5"/>
<line x1="360.1" y1="2544.2" x2="360.1" y2="2615.6" stroke="#ff0000" stroke-width="6.5"/>
<line x1="338.4" y1="2544.2" x2="381.9" y2="2544.2" stroke="#ff0000" stroke-width="6.5"/>
<line x1="338.4" y1="2615.6" x2="381.9" y2="2615.6" stroke="#ff0000" stroke-width="6.5"/>
<line x1="743.5" y1="2602.2" x2="743.5" y2="2736.0" stroke="#ff0000" stroke-width="6.5"/>
<line x1="721.8" y1="2602.2" x2="765.2" y2="2602.2" stroke="#ff0000" stroke-width="6.5"/>
<line x1="721.8" y1="2736.0" x2="765.2" y2="2736.0" stroke="#ff0000" stroke-width="6.5"/>
<line x1="1126.9" y1="2666.0" x2="1126.9" y2="2735.5" stroke="#ff0000" stroke-width="6.5"/>
<line x1="1105.2" y1="2666.0" x2="1148.7" y2="2666.0" stroke="#ff0000" stroke-width="6.5"/>
<line x1="1105.2" y1="2735.5" x2="1148.7" y2="2735.5" stroke="#ff0000" stroke-width="6.5"/>
<line x1="1510.3" y1="2725.0" x2="1510.3" y2="2762.4" stroke="#ff0000" stroke-width="6.5"/>
<line x1="1488.6" y1="2725.0" x2="1532.1" y2="2725.0" stroke="#ff0000" stroke-width="6.5"/>
<line x1="1488.6" y1="2762.4" x2="1532.1" y2="2762.4" stroke="#ff0000" stroke-width="6.5"/>
<line x1="338.4" y1="2549.2" x2="381.9" y2="2549.2" stroke="#0000ff" stroke-width="6.5"/>
<line x1="338.4" y1="2610.6" x2="381.9" y2="2610.6" stroke="#0000ff" stroke-width="6.5"/>
<line x1="721.8" y1="2628.4" x2="765.2" y2="2628.4" stroke="#0000ff" stroke-width="6.5"/>
<line x1="721.8" y1="2682.5" x2="765.2" y2="2682.5" stroke="#0000ff" stroke-width="6.5"/>
<line x1="1105.2" y1="2666.3" x2="1148.7" y2="2666.3" stroke="#0000ff" stroke-width="6.5"/>
<line x1="1105.2" y1="2729.2" x2="1148.7" y2="2729.2" stroke="#0000ff" stroke-width="6.5"/>
<line x1="1488.6" y1="2838.2" x2="1532.1" y2="2838.2" stroke="#0000ff" stroke-width="6.5"/>
<rect x="338.4" y="2554.2" width="43.5" height="43.5" fill="#000"/>
<rect x="721.8" y="3061.9" width="43.5" height="43.5" fill="#000"/>
<rect x="1105.2" y="3235.8" width="43.5" height="43.5" fill="#000"/>
<rect x="1488.6" y="3315.4" width="43.5" height="43.5" fill="#000"/>
<circle cx="360.1" cy="2576.0" r="24.3" fill="#ff0000"/>
<circle cx="743.5" cy="2653.5" r="24.3" fill="#ff0000"/>
<circle cx="1126.9" cy="2700.0" r="24.3" fill="#ff0000"/>
<circle cx="1510.3" cy="2743.7" r="24.3" fill="#ff0000"/>
<polygon points="360.1,2544.5 331.2,2594.0 389.0,2594.0" fill="#0000ff"/>
<polygon points="743.5,2619.8 714.6,2669.3 772.4,2669.3" fill="#0000ff"/>
<polygon points="1126.9,2661.7 1098.0,2711.2 1155.8,2711.2" fill="#0000ff"/>
<polygon points="1510.3,2815.5 1481.4,2865.0 1539.2,2865.0" fill="#0000ff"/>
</g>
<rect x="264.7" y="2530.0" width="1340.9" height="997.0" fill="none" stroke="#2e2e2e" stroke-width="5.0" stroke-linejoin="round"/>
<line x1="245.7" y1="3527.0" x2="264.7" y2="3527.0" stroke="#2e2e2e" stroke-width="5.0"/>
<line x1="254.7" y1="3431.6" x2="264.7" y2="3431.6" stroke="#2e2e2e" stroke-width="5.0"/>
<line x1="254.7" y1="3375.8" x2="264.7" y2="3375.8" stroke="#2e2e2e" stroke-width="5.0"/>
<line x1="254.7" y1="3336.1" x2="264.7" y2="3336.1" stroke="#2e2e2e" stroke-width="5.0"/>
<line x1="254.7" y1="3305.4" x2="264.7" y2="3305.4" stroke="#2e2e2e" stroke-width="5.0"/>
<line x1="254.7" y1="3280.3" x2="264.7" y2="3280.3" stroke="#2e2e2e" stroke-width="5.0"/>
<line x1="254.7" y1="3259.1" x2="264.7" y2="3259.1" stroke="#2e2e2e" stroke-width="5.0"/>
<line x1="254.7" y1="3240.7" x2="264.7" y2="3240.7" stroke="#2e2e2e" stroke-width="5.0"/>
<line x1="254.7" y1="3224.5" x2="264.7" y2="3224.5" stroke="#2e2e2e" stroke-width="5.0"/>
<line x1="245.7" y1="3210.0" x2="264.7" y2="3210.0" stroke="#2e2e2e" stroke-width="5.0"/>
<line x1="254.7" y1="3114.6" x2="264.7" y2="3114.6" stroke="#2e2e2e" stroke-width="5.0"/>
<line x1="254.7" y1="3058.8" x2="264.7" y2="3058.8" stroke="#2e2e2e" stroke-width="5.0"/>
<line x1="254.7" y1="3019.1" x2="264.7" y2="3019.1" stroke="#2e2e2e" stroke-width="5.0"/>
<line x1="254.7" y1="2988.4" x2="264.7" y2="2988.4" stroke="#2e2e2e" stroke-width="5.0"/>
<line x1="254.7" y1="2963.3" x2="264.7" y2="2963.3" stroke="#2e2e2e" stroke-width="5.0"/>
<line x1="254.7" y1="2942.1" x2="264.7" y2="2942.1" stroke="#2e2e2e" stroke-width="5.0"/>
<line x1="254.7" y1="2923.7" x2="264.7" y2="2923.7" stroke="#2e2e2e" stroke-width="5.0"/>
<line x1="254.7" y1="2907.5" x2="264.7" y2="2907.5" stroke="#2e2e2e" stroke-width="5.0"/>
<line x1="245.7" y1="2893.0" x2="264.7" y2="2893.0" stroke="#2e2e2e" stroke-width="5.0"/>
<line x1="254.7" y1="2797.6" x2="264.7" y2="2797.6" stroke="#2e2e2e" stroke-width="5.0"/>
<line x1="254.7" y1="2741.8" x2="264.7" y2="2741.8" stroke="#2e2e2e" stroke-width="5.0"/>
<line x1="254.7" y1="2702.1" x2="264.7" y2="2702.1" stroke="#2e2e2e" stroke-width="5.0"/>
<line x1="254.7" y1="2671.4" x2="264.7" y2="2671.4" stroke="#2e2e2e" stroke-width="5.0"/>
<line x1="254.7" y1="2646.3" x2="264.7" y2="2646.3" stroke="#2e2e2e" stroke-width="5.0"/>
<line x1="254.7" y1="2625.1" x2="264.7" y2="2625.1" stroke="#2e2e2e" stroke-width="5.0"/>
<line x1="254.7" y1="2606.7" x2="264.7" y2="2606.7" stroke="#2e2e2e" stroke-width="5.0"/>
<line x1="254.7" y1="2590.5" x2="264.7" y2="2590.5" stroke="#2e2e2e" stroke-width="5.0"/>
<line x1="245.7" y1="2576.0" x2="264.7" y2="2576.0" stroke="#2e2e2e" stroke-width="5.0"/>
<text y="2596.0" font-size="77.3" fill="#000" stroke="#000" stroke-width="1.3" stroke-linejoin="round"><tspan x="105.2" font-family="NanumGothic, 'Liberation Sans', sans-serif" font-size="71.1" stroke-width="3.0">1</tspan><tspan x="144.5">0</tspan><tspan x="187.5">0</tspan></text>
<text y="2916.8" font-size="77.3" fill="#000" stroke="#000" stroke-width="1.3" stroke-linejoin="round"><tspan x="147.2" font-family="NanumGothic, 'Liberation Sans', sans-serif" font-size="71.1" stroke-width="3.0">1</tspan><tspan x="186.5">0</tspan></text>
<text y="3233.3" font-size="77.3" fill="#000" stroke="#000" stroke-width="1.3" stroke-linejoin="round"><tspan x="189.2" font-family="NanumGothic, 'Liberation Sans', sans-serif" font-size="71.1" stroke-width="3.0">1</tspan></text>
<text y="3550.7" font-size="77.3" fill="#000" stroke="#000" stroke-width="1.3" stroke-linejoin="round"><tspan x="123.0">0</tspan><tspan x="166.0">.</tspan><tspan x="191.2" font-family="NanumGothic, 'Liberation Sans', sans-serif" font-size="71.1" stroke-width="3.0">1</tspan></text>
<line x1="360.1" y1="3527.0" x2="360.1" y2="3546.0" stroke="#2e2e2e" stroke-width="5.0"/>
<line x1="456.0" y1="3527.0" x2="456.0" y2="3537.0" stroke="#2e2e2e" stroke-width="5.0"/>
<line x1="551.8" y1="3527.0" x2="551.8" y2="3546.0" stroke="#2e2e2e" stroke-width="5.0"/>
<line x1="647.7" y1="3527.0" x2="647.7" y2="3537.0" stroke="#2e2e2e" stroke-width="5.0"/>
<line x1="743.5" y1="3527.0" x2="743.5" y2="3546.0" stroke="#2e2e2e" stroke-width="5.0"/>
<line x1="839.4" y1="3527.0" x2="839.4" y2="3537.0" stroke="#2e2e2e" stroke-width="5.0"/>
<line x1="935.2" y1="3527.0" x2="935.2" y2="3546.0" stroke="#2e2e2e" stroke-width="5.0"/>
<line x1="1031.1" y1="3527.0" x2="1031.1" y2="3537.0" stroke="#2e2e2e" stroke-width="5.0"/>
<line x1="1126.9" y1="3527.0" x2="1126.9" y2="3546.0" stroke="#2e2e2e" stroke-width="5.0"/>
<line x1="1222.8" y1="3527.0" x2="1222.8" y2="3537.0" stroke="#2e2e2e" stroke-width="5.0"/>
<line x1="1318.6" y1="3527.0" x2="1318.6" y2="3546.0" stroke="#2e2e2e" stroke-width="5.0"/>
<line x1="1414.5" y1="3527.0" x2="1414.5" y2="3537.0" stroke="#2e2e2e" stroke-width="5.0"/>
<line x1="1510.3" y1="3527.0" x2="1510.3" y2="3546.0" stroke="#2e2e2e" stroke-width="5.0"/>
<text x="338.1" y="3619.0" font-size="77.3" fill="#000" stroke="#000" stroke-width="1.3" stroke-linejoin="round">0</text>
<text y="3619.0" font-size="77.3" fill="#000" stroke="#000" stroke-width="1.3" stroke-linejoin="round"><tspan x="512.0" font-family="NanumGothic, 'Liberation Sans', sans-serif" font-size="71.1" stroke-width="3.0">1</tspan><tspan x="551.3">0</tspan></text>
<text x="700.0" y="3619.0" font-size="77.3" fill="#000" stroke="#000" stroke-width="1.3" stroke-linejoin="round">20</text>
<text x="891.7" y="3619.0" font-size="77.3" fill="#000" stroke="#000" stroke-width="1.3" stroke-linejoin="round">30</text>
<text x="1083.4" y="3619.0" font-size="77.3" fill="#000" stroke="#000" stroke-width="1.3" stroke-linejoin="round">40</text>
<text x="1275.1" y="3619.0" font-size="77.3" fill="#000" stroke="#000" stroke-width="1.3" stroke-linejoin="round">50</text>
<text x="1466.8" y="3619.0" font-size="77.3" fill="#000" stroke="#000" stroke-width="1.3" stroke-linejoin="round">60</text>
<text x="751.4" y="3744.5" font-size="77.3" fill="#000" stroke="#000" stroke-width="1.3" stroke-linejoin="round">Time (min)</text>
<text x="9.9" y="2597.0" font-size="183" fill="#000" stroke="#000" stroke-width="3.6" stroke-linejoin="round">c</text>
<g transform="translate(74.2,3362.3) rotate(-90)"><text fill="#000" stroke="#000" stroke-linejoin="round"><tspan x="-2.9" y="0.0" font-size="77.3" stroke-width="1.3" letter-spacing="-0.9">Survival </tspan><tspan x="292.5" y="0.0" font-size="77.3" stroke-width="1.3">rate </tspan><tspan x="447.4" y="0.0" font-size="77.3" stroke-width="0.4">(</tspan><tspan x="474.1" y="0.0" font-size="80" stroke-width="1.3">%</tspan><tspan x="543.7" y="0.0" font-size="77.3" stroke-width="0.4">)</tspan></text></g>
<line x1="319.5" y1="3325.7" x2="438.7" y2="3325.7" stroke="#000" stroke-width="8"/>
<rect x="357.6" y="3304.3" width="43.5" height="43.5" fill="#000"/>
<text x="453.5" y="3344.4" font-size="53.8" fill="#000" stroke="#000" stroke-width="1.4" stroke-linejoin="round">Control</text>
<line x1="319.5" y1="3392.0" x2="438.7" y2="3392.0" stroke="#ff0000" stroke-width="8"/>
<circle cx="379.3" cy="3392.0" r="24.3" fill="#ff0000"/>
<text x="454.4" y="3412.6" font-size="53.8" fill="#000" stroke="#000" stroke-width="1.4" stroke-linejoin="round">+ 50 mM MOPS buffer</text>
<line x1="319.5" y1="3458.1" x2="438.7" y2="3458.1" stroke="#0000ff" stroke-width="8"/>
<polygon points="379.3,3426.5 350.4,3476.0 408.2,3476.0" fill="#0000ff"/>
<text x="454.4" y="3477.3" font-size="53.8" fill="#000" stroke="#000" stroke-width="1.4" stroke-linejoin="round">+ 50 mM thiourea</text>
</svg>
</body>
</html>
